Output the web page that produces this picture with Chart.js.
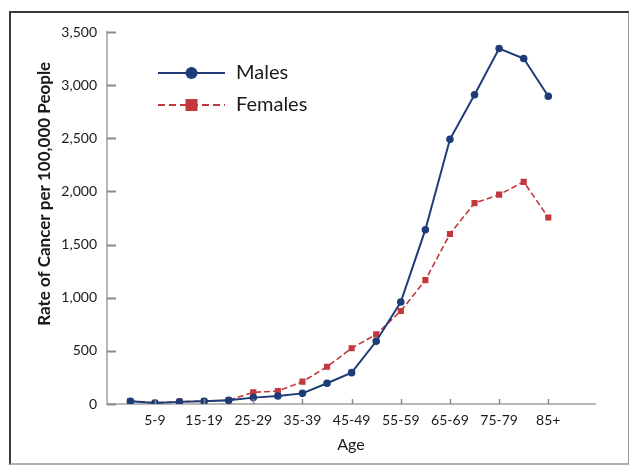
<!DOCTYPE html>
<html>
<head>
<meta charset="utf-8">
<script src="https://cdn.jsdelivr.net/npm/chart.js@4/dist/chart.umd.min.js"></script>
<style>
  html, body { margin: 0; padding: 0; background: #ffffff; }
  #wrap { position: relative; width: 629px; height: 465px; }
  #frame { position: absolute; left: 9px; top: 11px; width: 617px; height: 450px; border: 2px solid #3a3a3a; border-right-color: #9a9a9a; border-bottom-color: #b0b0b0; pointer-events: none; }
  canvas { position: absolute; left: 0; top: 0; }
</style>
</head>
<body>
<div id="wrap">
  <canvas id="c" width="629" height="465"></canvas>
  <div id="frame"></div>
</div>
<script>
const ageGroups = ['0-4','5-9','10-14','15-19','20-24','25-29','30-34','35-39','40-44','45-49','50-54','55-59','60-64','65-69','70-74','75-79','80-84','85+'];
const males   = [25, 10, 20, 25, 35, 60, 75, 100, 195, 295, 590, 960, 1640, 2490, 2910, 3345, 3250, 2895];
const females = [28, 12, 22, 28, 35, 110, 122, 210, 350, 525, 655, 875, 1165, 1600, 1890, 1970, 2090, 1755];
const yTicks = [0, 500, 1000, 1500, 2000, 2500, 3000, 3500];
const seriesNames = ['Males', 'Females'];
const yTitle = 'Rate of Cancer per 100,000 People';

const maleColor = '#1d3c78';
const femaleColor = '#c2383c';
const FONT = 'Lato, "Open Sans", sans-serif';

const toPoints = arr => arr.map((v, i) => ({ x: i, y: v }));
const labeledIdx = ageGroups.map((_, i) => i).filter(i => i % 2 === 1);

const innerTicks = {
  id: 'innerTicks',
  afterDraw(chart) {
    const ctx = chart.ctx, xs = chart.scales.x, ys = chart.scales.y;
    ctx.save();
    ctx.strokeStyle = '#8a8a8a';
    ctx.lineWidth = 2;
    yTicks.forEach(v => {
      const py = Math.round(ys.getPixelForValue(v)) + 0.5;
      ctx.beginPath(); ctx.moveTo(xs.left, py); ctx.lineTo(xs.left + 9, py); ctx.stroke();
    });
    ctx.lineWidth = 1.5;
    labeledIdx.forEach(i => {
      const px = Math.round(xs.getPixelForValue(i)) + 0.5;
      ctx.beginPath(); ctx.moveTo(px, ys.bottom); ctx.lineTo(px, ys.bottom - 5); ctx.stroke();
    });
    // y-axis title, placed like the original (slightly above the axis centre)
    const a = chart.chartArea;
    ctx.translate(45, a.top + (a.bottom - a.top) * 0.435);
    ctx.rotate(-Math.PI / 2);
    ctx.fillStyle = '#1a1a1a';
    ctx.font = 'bold 17px ' + FONT;
    ctx.textAlign = 'center';
    ctx.textBaseline = 'middle';
    ctx.fillText(yTitle, 0, 0);
    ctx.restore();
  }
};

const customLegend = {
  id: 'customLegend',
  afterDraw(chart) {
    const ctx = chart.ctx, a = chart.chartArea;
    const x0 = a.left + 51, x1 = a.left + 118, xm = (x0 + x1) / 2;
    const rows = [a.top + 41, a.top + 73];
    ctx.save();
    chart.data.datasets.forEach((ds, k) => {
      const y = rows[k];
      ctx.strokeStyle = ds.borderColor;
      ctx.lineWidth = 2;
      ctx.setLineDash(k === 1 ? [7, 4] : []);
      ctx.beginPath(); ctx.moveTo(x0, y); ctx.lineTo(x1, y); ctx.stroke();
      ctx.setLineDash([]);
      ctx.fillStyle = ds.borderColor;
      if (ds.pointStyle === 'rect') {
        ctx.fillRect(xm - 6, y - 6, 12, 12);
      } else {
        ctx.beginPath(); ctx.arc(xm, y, 6, 0, Math.PI * 2); ctx.fill();
      }
      ctx.fillStyle = '#1a1a1a';
      ctx.font = '20px ' + FONT;
      ctx.textBaseline = 'middle';
      ctx.textAlign = 'left';
      ctx.fillText(ds.label, x1 + 11, y);
    });
    ctx.restore();
  }
};

new Chart(document.getElementById('c'), {
  type: 'line',
  data: {
    datasets: [
      {
        label: seriesNames[0], data: toPoints(males),
        borderColor: maleColor, backgroundColor: maleColor,
        borderWidth: 2, pointStyle: 'circle', pointRadius: 2.8, pointHoverRadius: 2.8,
        tension: 0
      },
      {
        label: seriesNames[1], data: toPoints(females),
        borderColor: femaleColor, backgroundColor: femaleColor,
        borderWidth: 1.6, borderDash: [6, 3], pointStyle: 'rect', pointRadius: 3.2, pointHoverRadius: 3.2,
        tension: 0
      }
    ]
  },
  options: {
    responsive: false,
    animation: false,
    layout: { padding: { top: 32, right: 34, bottom: 0, left: 0 } },
    plugins: { legend: { display: false }, tooltip: { enabled: false } },
    scales: {
      x: {
        type: 'linear', min: -0.95, max: 18.9,
        afterBuildTicks: s => { s.ticks = labeledIdx.map(v => ({ value: v })); },
        afterFit: s => { s.height = 61; },
        grid: { display: true, drawOnChartArea: false, drawTicks: false },
        border: { display: true, color: '#b8b8b8', width: 2 },
        ticks: {
          autoSkip: false, maxRotation: 0, padding: 8,
          color: '#1a1a1a', font: { family: FONT, size: 14 },
          callback: v => ageGroups[v] || ''
        },
        title: { display: true, text: 'Age', color: '#1a1a1a', font: { family: FONT, size: 16 }, padding: { top: 0, bottom: 11 } }
      },
      y: {
        min: 0, max: 3500,
        afterBuildTicks: s => { s.ticks = yTicks.map(v => ({ value: v })); },
        afterFit: s => { s.width = 107; },
        grid: { display: true, drawOnChartArea: false, drawTicks: false },
        border: { display: true, color: '#b8b8b8', width: 2 },
        ticks: {
          padding: 10, color: '#1a1a1a', font: { family: FONT, size: 14 },
          callback: v => v.toLocaleString('en-US')
        },
        title: { display: false, text: yTitle }
      }
    }
  },
  plugins: [innerTicks, customLegend]
});
</script>
</body>
</html>
